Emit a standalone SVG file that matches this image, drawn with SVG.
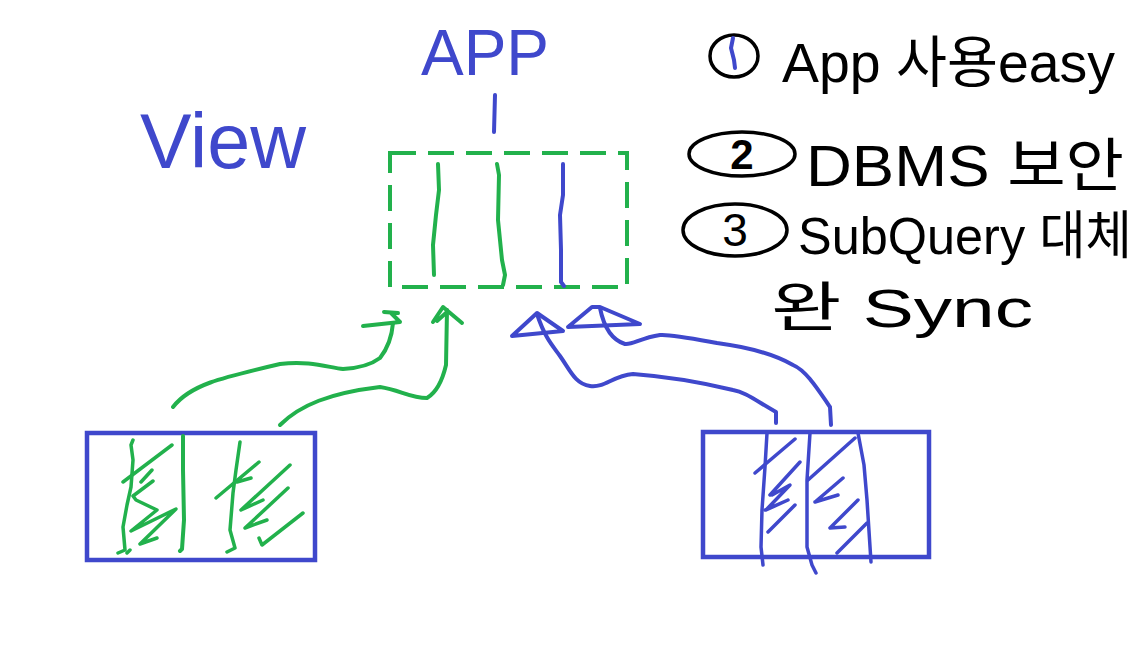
<svg xmlns="http://www.w3.org/2000/svg" width="1141" height="648" viewBox="0 0 1141 648">
<style>
.g{fill:none;stroke:#22b14c;stroke-width:4;stroke-linecap:round;stroke-linejoin:round}
.gs{fill:none;stroke:#22b14c;stroke-width:3.5;stroke-linecap:round;stroke-linejoin:round}
.b{fill:none;stroke:#3f48cc;stroke-width:4;stroke-linecap:round;stroke-linejoin:round}
.bs{fill:none;stroke:#3f48cc;stroke-width:3.5;stroke-linecap:round;stroke-linejoin:round}
.k{fill:none;stroke:#000;stroke-width:3.5}
.t{font-family:"Liberation Sans","Noto Sans CJK KR",sans-serif}
.tb{fill:#3f48cc}
.tk{fill:#000}
</style>
<rect width="1141" height="648" fill="#fff"/>

<g id="app-label">
<text class="t tb" x="485" y="75" font-size="64" text-anchor="middle" textLength="128" lengthAdjust="spacingAndGlyphs">APP</text>
<path class="b" d="M495,95 L494,132"/>
</g>

<g id="view-label">
<text class="t tb" x="140" y="168" font-size="78" textLength="166" lengthAdjust="spacingAndGlyphs">View</text>
</g>

<g id="view-box">
<rect x="390" y="153" width="237" height="134" fill="none" stroke="#22b14c" stroke-width="4" stroke-dasharray="26,12"/>
<path class="g" d="M438,164 L439,190 L436,215 L433,245 L434,275"/>
<path class="g" d="M497,164 L499,175 L498,220 L502,260 L505,275 L503,285"/>
<path class="b" d="M563,164 L563,195 L560,215 L561,250 L561,282 L564,286"/>
</g>

<g id="table-left">
<rect x="87" y="433" width="228" height="127" fill="none" stroke="#3f48cc" stroke-width="4.5"/>
<path class="g" d="M183,436 L183,470 L184,520 L182,549 L180,551"/>
<path class="gs" d="M133,440 L131,445 L133,460 L131,487 L127,505 L123,527 L125,550 L118,553 M127,553 L130,550"/>
<path class="gs" d="M172,445 L123,482 M152,470 L141,482 M153,481 L133,496 L136,500 L157,510 L131,531 L176,509 L140,544 L157,538"/>
<path class="gs" d="M240,442 L236,470 L233,493 L230,530 L235,548 L227,552"/>
<path class="gs" d="M259,462 L216,498 M251,478 L237,482 M290,465 L241,510 L263,500 M288,488 L245,528 L267,520 M303,513 L262,545 L259,538"/>
</g>

<g id="table-right">
<rect x="703" y="432" width="226" height="125" fill="none" stroke="#3f48cc" stroke-width="4.5"/>
<path class="bs" d="M767,433 L765,467 L762,510 L761,547 L763,565"/>
<path class="bs" d="M810,433 L807,480 L807,547 L812,565 L816,573"/>
<path class="bs" d="M858,433 L864,465 L867,500 L871,562"/>
<path class="bs" d="M755,473 L795,439 M770,495 L800,462 M772,495 L790,485 L766,510 L788,500 L765,510 M768,532 L795,505"/>
<path class="bs" d="M808,480 L855,438 M815,502 L843,478 M815,502 L838,495 M830,528 L858,500 M830,528 L845,527 M837,553 L867,523"/>
</g>

<g id="notes">
<ellipse class="k" cx="734" cy="56" rx="24" ry="21"/>
<path class="b" d="M733,38 L731,48 L734,60 L735,68" stroke-width="3.5"/>
<text class="t tk" x="782" y="82" font-size="56" textLength="333" lengthAdjust="spacingAndGlyphs">App 사용easy</text>
<ellipse class="k" cx="742" cy="154" rx="53" ry="22"/>
<text class="t tk" x="742" y="169" font-size="42" font-weight="bold" text-anchor="middle">2</text>
<ellipse class="k" cx="735" cy="230" rx="52" ry="26"/>
<text class="t tk" x="735" y="246" font-size="46" text-anchor="middle">3</text>
<text class="t tk" x="806" y="186" font-size="58" textLength="318" lengthAdjust="spacingAndGlyphs">DBMS 보안</text>
<text class="t tk" x="798" y="254" font-size="52" textLength="334" lengthAdjust="spacingAndGlyphs">SubQuery 대체</text>
<text class="t tk" x="771" y="327" font-size="54" textLength="262" lengthAdjust="spacingAndGlyphs">완 Sync</text>
</g>

<g id="connectors">
<path class="g" d="M173,407 C190,385 220,378 280,364 C310,360 330,368 343,369 C362,368 372,364 380,358 C388,348 392,335 393,323"/>
<path class="g" d="M363,326 L400,322 L391,313 M384,312 L398,313"/>
<path class="g" d="M280,425 C300,405 330,393 380,387 C400,390 410,398 427,398 C437,392 443,378 446,365 L447,310"/>
<path class="g" d="M433,322 L443,307 L462,323 M437,321 L447,312"/>
<path class="b" d="M776,423 L776,412 C755,400 745,392 733,390 C700,382 660,376 633,374 C612,376 605,388 590,386 C575,384 570,370 560,356 C552,345 545,338 537,314"/>
<path class="b" d="M512,336 L537,313 L563,331 Z"/>
<path class="b" d="M831,425 L830,407 C815,385 805,370 793,365 C770,352 740,346 717,343 C690,338 670,334 660,335 C640,338 633,345 625,344 C612,340 604,328 600,308"/>
<path class="b" d="M568,327 L592,307 L600,307 L640,324 Z"/>
</g>
</svg>
